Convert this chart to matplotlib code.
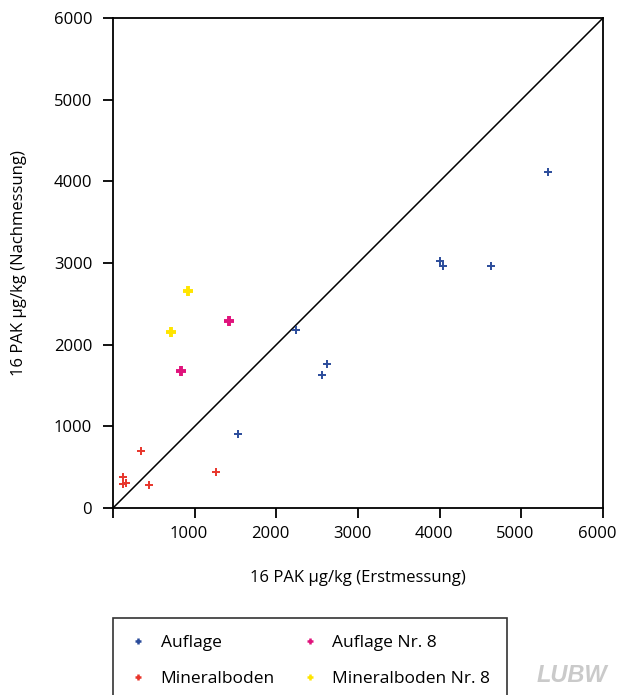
import matplotlib
matplotlib.use("Agg")
import matplotlib.pyplot as plt
import matplotlib.transforms as mtransforms

plt.rcParams["font.family"] = ["Open Sans", "DejaVu Sans"]

# PAK-Summen (16 EPA-PAK) in µg/kg: Erstmessung vs. Nachmessung
auflage_x = [5330, 4010, 4045, 4625, 2245, 2617, 2563, 1527]
auflage_y = [4110, 3028, 2967, 2967, 2180, 1759, 1625, 910]

mineral_x = [339, 127, 127, 154, 445, 1261]
mineral_y = [702, 383, 290, 310, 278, 437]

auflage8_x = [1420, 837]
auflage8_y = [2286, 1678]

mineral8_x = [918, 705]
mineral8_y = [2653, 2155]

TICKS = [0, 1000, 2000, 3000, 4000, 5000, 6000]
XTICK_LABELS = ["", "1000", "2000", "3000", "4000", "5000", "6000"]
YTICK_LABELS = ["0", "1000", "2000", "3000", "4000", "5000", "6000"]

COLORS = {
    "auflage": "#2b4c9b",
    "mineral": "#e8352b",
    "auflage8": "#e0137c",
    "mineral8": "#ffe500",
}

fig = plt.figure(figsize=(6.2, 6.95), dpi=100)
ax = fig.add_axes([113 / 620, 1 - 508 / 695, 490 / 620, 490 / 695])

ax.plot([0, 6000], [0, 6000], color="black", lw=1.1, zorder=1)

ax.plot(auflage_x, auflage_y, ls="none", marker="+", ms=6, mew=1.4,
        color=COLORS["auflage"], label="Auflage")
ax.plot(mineral_x, mineral_y, ls="none", marker="+", ms=6, mew=1.4,
        color=COLORS["mineral"], label="Mineralboden")
ax.plot(auflage8_x, auflage8_y, ls="none", marker="+", ms=7, mew=2.8,
        color=COLORS["auflage8"], label="Auflage Nr. 8")
ax.plot(mineral8_x, mineral8_y, ls="none", marker="+", ms=7, mew=2.8,
        color=COLORS["mineral8"], label="Mineralboden Nr. 8")

ax.set_xlim(0, 6000)
ax.set_ylim(0, 6000)
ax.set_xticks(TICKS, XTICK_LABELS)
ax.set_yticks(TICKS, YTICK_LABELS)
ax.tick_params(direction="out", length=7, width=1.3, labelsize=12)
ax.tick_params(axis="x", pad=6)
ax.tick_params(axis="y", pad=8)
for spine in ax.spines.values():
    spine.set_linewidth(1.3)

# x tick labels sit slightly left of their ticks
shift = mtransforms.ScaledTranslation(-6 / 100, 0, fig.dpi_scale_trans)
for lbl in ax.get_xticklabels():
    lbl.set_transform(lbl.get_transform() + shift)

ax.set_xlabel("16 PAK µg/kg (Erstmessung)", fontsize=12, labelpad=20)
ax.set_ylabel("16 PAK µg/kg (Nachmessung)", fontsize=12, labelpad=19)

h, l = ax.get_legend_handles_labels()
leg = fig.legend(h, l, ncol=2, loc="upper left",
                 bbox_to_anchor=(113 / 620, 1 - 618 / 695),
                 fontsize=12.5, frameon=True, fancybox=False,
                 edgecolor="black", borderpad=0.95, labelspacing=1.15,
                 handlelength=1.0, handletextpad=0.8, columnspacing=1.5,
                 borderaxespad=0)
leg.get_frame().set_linewidth(1.2)
for hd in leg.legend_handles:
    hd.set_markersize(5)
    hd.set_markeredgewidth(1.8)

fig.text(0.98, 0.012, "LUBW", ha="right", va="bottom", fontsize=17,
         fontweight="bold", fontstyle="italic", color="#cacaca",
         family="Liberation Sans")

fig.savefig("out.png", dpi=100)
